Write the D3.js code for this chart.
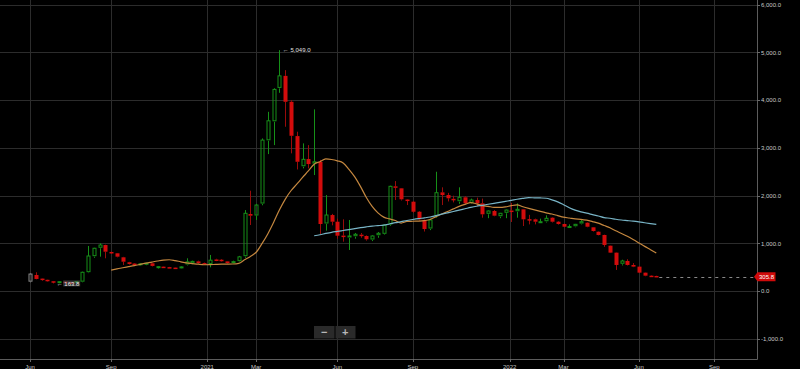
<!DOCTYPE html>
<html><head><meta charset="utf-8">
<script src="https://cdn.jsdelivr.net/npm/d3@7"></script>
<style>
html,body{margin:0;padding:0;background:#000;overflow:hidden}
svg{display:block;font-family:"Liberation Sans",Arial,sans-serif}
</style></head><body>
<svg id="c" width="800" height="369"></svg>
<script>
// ---- data (weekly candles, starting Monday 2020-06-01) ----
const startDate = "2020-06-01";
const open = [190,340,265,240,210,175,200,185,175,190,
  389,724,900,968,822,795,711,607,580,545,
  555,585,485,515,505,495,480,550,575,625,
  590,560,665,660,625,590,620,724,1617,1575,
  1826,3150,3548,4247,4510,3967,3249,2607,2768,2663,
  2711,1408,1596,1456,1165,1115,1142,1185,1157,1073,
  1163,1192,1387,2197,2155,1920,1875,1665,1492,1303,
  1561,2071,2015,1935,1875,1967,1841,1910,1841,1611,
  1680,1561,1632,1690,1665,1715,1510,1506,1440,1456,
  1540,1456,1408,1345,1351,1408,1435,1339,1246,1178,
  954,808,565,634,550,515,389,326,320];
const high = [370,397,270,245,215,205,205,190,210,410,
  948,910,1004,975,830,800,720,615,590,585,
  595,595,525,520,510,500,520,690,640,640,
  600,760,680,675,630,640,740,1700,2105,1830,
  3200,3757,4250,5049,4630,4000,3340,3096,3060,3808,
  2750,2015,1620,1520,1506,1492,1220,1220,1170,1170,
  1240,1400,2210,2307,2160,1930,1890,1680,1500,1520,
  2502,2176,2060,2000,2176,1990,1940,1960,1940,1690,
  1700,1640,1710,1850,1840,1720,1600,1520,1520,1590,
  1550,1470,1415,1400,1410,1490,1445,1345,1255,1185,
  960,815,660,670,590,520,395,335,325];
const low = [185,250,220,205,163.8,168,180,170,170,185,
  380,700,724,690,780,710,550,560,545,535,
  545,520,475,495,490,470,475,540,565,580,
  550,500,630,620,580,585,610,700,1387,1492,
  1800,2872,3060,4155,3444,2887,2550,2573,2573,2433,
  1199,1268,1380,1100,1038,864,1100,1120,1060,1050,
  1120,1180,1370,1910,1900,1805,1640,1480,1250,1280,
  1540,1805,1880,1860,1830,1820,1830,1780,1540,1530,
  1570,1530,1530,1450,1540,1366,1400,1400,1430,1440,
  1440,1395,1340,1340,1340,1400,1340,1250,1170,930,
  800,446,540,540,505,380,315,310,300];
const close = [360,257,240,215,195,200,185,175,205,397,
  738,900,968,828,795,724,619,571,555,575,
  585,530,515,500,495,480,510,615,625,590,
  560,650,645,630,590,620,720,1632,1582,1805,
  3165,3569,4226,4510,3967,3255,2711,2762,2663,2711,
  1408,1596,1456,1163,1150,1157,1192,1170,1088,1157,
  1213,1387,2197,2167,1925,1900,1665,1506,1303,1492,
  2063,2015,1946,1925,1967,1841,1910,1841,1611,1680,
  1582,1632,1700,1680,1715,1506,1500,1456,1456,1527,
  1456,1408,1351,1355,1401,1456,1351,1261,1178,969,
  808,550,634,550,515,389,326,320,305.8];
const maPeriods = [15, 50];
const xTickDates = ["2020-06-01","2020-09-07","2021-01-01","2021-03-01","2021-06-07",
  "2021-09-06","2022-01-01","2022-03-07","2022-06-06","2022-09-05"];
const xTickLabels = ["Jun","Sep","2021","Mar","Jun","Sep","2022","Mar","Jun","Sep"];
const yTicks = [-1000,0,1000,2000,3000,4000,5000,6000];

// ---- setup ----
const W = 800, H = 369, plotR = 757, plotB = 359;
const svg = d3.select("#c");
const parse = d3.utcParse("%Y-%m-%d");
const t0 = parse(startDate);
const dates = close.map((_, i) => d3.utcDay.offset(t0, 7 * i));
const x = d3.scaleUtc().domain([parse("2020-06-01"), parse("2022-09-05")]).range([30, 714.3]);
const y = d3.scaleLinear().domain([-1000, 6000]).range([339, 4.7]);
const loc = d3.formatLocale({decimal: ".", thousands: ",", grouping: [3], currency: ["$", ""], minus: "-"});
const fmt = loc.format(",.1f");

const GREEN = "#169018", RED = "#d30c0c", RED_WICK = "#9a0b0b", GRAY = "#8a8a8a";

svg.append("rect").attr("width", W).attr("height", H).attr("fill", "#000");

// grid
const grid = svg.append("g").attr("stroke", "#2c2c2c").attr("stroke-width", 1);
grid.selectAll("line.h").data(yTicks).join("line")
  .attr("x1", 0).attr("x2", plotR)
  .attr("y1", d => Math.round(y(d)) + 0.5).attr("y2", d => Math.round(y(d)) + 0.5);
grid.selectAll("line.v").data(xTickDates).join("line")
  .attr("y1", 0).attr("y2", plotB)
  .attr("x1", d => Math.round(x(parse(d))) + 0.5).attr("x2", d => Math.round(x(parse(d))) + 0.5);

// clip
svg.append("clipPath").attr("id", "clip").append("rect").attr("x", 0).attr("y", 0).attr("width", plotR).attr("height", plotB);
const plot = svg.append("g").attr("clip-path", "url(#clip)");

// candles
const cw = 4;
const candles = plot.append("g");
close.forEach((c, i) => {
  const o = open[i], hi = high[i], lo = low[i];
  const cx = Math.round(x(dates[i])) + 0.5;
  const up = c >= o;
  const col = i === 0 ? GRAY : (up ? GREEN : RED);
  const wickCol = i === 0 ? GRAY : (up ? GREEN : RED_WICK);
  const yTop = y(Math.max(o, c)), yBot = y(Math.min(o, c));
  const g = candles.append("g");
  g.append("line").attr("x1", cx).attr("x2", cx).attr("y1", y(hi)).attr("y2", yTop)
    .attr("stroke", wickCol).attr("stroke-width", 1);
  g.append("line").attr("x1", cx).attr("x2", cx).attr("y1", yBot).attr("y2", y(lo))
    .attr("stroke", wickCol).attr("stroke-width", 1);
  const hgt = Math.max(1.5, yBot - yTop);
  if (up) {
    g.append("rect").attr("x", cx - cw / 2 + 0.5).attr("y", yTop).attr("width", cw - 1).attr("height", Math.max(1, hgt - 1))
      .attr("fill", "none").attr("stroke", col).attr("stroke-width", 1);
  } else {
    g.append("rect").attr("x", cx - cw / 2).attr("y", yTop).attr("width", cw).attr("height", hgt)
      .attr("fill", col);
  }
});

// moving averages
function sma(n) {
  return close.map((_, i) => i < n - 1 ? null : d3.mean(close.slice(i - n + 1, i + 1)));
}
const maColors = ["#c4873f", "#78b4c6"];
maPeriods.forEach((n, k) => {
  const vals = sma(n);
  const line = d3.line().defined(d => d != null).x((d, i) => x(dates[i])).y(d => y(d)).curve(d3.curveMonotoneX);
  plot.append("path").attr("d", line(vals)).attr("fill", "none")
    .attr("stroke", maColors[k]).attr("stroke-width", 1.2);
});

// last price dashed line
const last = close.length - 1;
plot.append("line").attr("x1", x(dates[last]) + 3).attr("x2", plotR)
  .attr("y1", Math.round(y(close[last])) + 0.5).attr("y2", Math.round(y(close[last])) + 0.5)
  .attr("stroke", "#8a8a8a").attr("stroke-width", 1).attr("stroke-dasharray", "3,4");

// max / min labels
const iMax = d3.maxIndex(high), iMin = d3.minIndex(low);
svg.append("text").attr("x", x(dates[iMax]) + 3.5).attr("y", y(high[iMax])).attr("dy", "0.35em")
  .attr("fill", "#e0e0e0").attr("font-size", 6).text("← " + fmt(high[iMax]));
const minG = svg.append("g");
const minX = x(dates[iMin]) + 3.5, minY = y(low[iMin]);
minG.append("rect").attr("x", minX + 6.5).attr("y", minY - 3).attr("width", 17).attr("height", 6)
  .attr("fill", "rgba(90,90,90,0.55)");
minG.append("text").attr("x", minX).attr("y", minY).attr("dy", "0.35em")
  .attr("fill", "#e8e8e8").attr("font-size", 6).text("← " + fmt(low[iMin]));

// right axis
const ax = svg.append("g");
ax.append("line").attr("x1", plotR + 0.5).attr("x2", plotR + 0.5).attr("y1", 0).attr("y2", plotB + 0.5)
  .attr("stroke", "#5c5c5c");
ax.selectAll("line.t").data(yTicks).join("line")
  .attr("x1", plotR).attr("x2", plotR + 3)
  .attr("y1", d => Math.round(y(d)) + 0.5).attr("y2", d => Math.round(y(d)) + 0.5).attr("stroke", "#6a6a6a");
ax.selectAll("text").data(yTicks).join("text")
  .attr("x", plotR + 4).attr("y", d => y(d)).attr("dy", "0.35em")
  .attr("fill", "#c8c8c8").attr("font-size", 6).text(d => fmt(d));

// bottom axis
const bx = svg.append("g");
bx.append("line").attr("x1", 0).attr("x2", plotR + 0.5).attr("y1", plotB + 0.5).attr("y2", plotB + 0.5)
  .attr("stroke", "#5c5c5c");
bx.selectAll("line.t").data(xTickDates).join("line")
  .attr("x1", d => Math.round(x(parse(d))) + 0.5).attr("x2", d => Math.round(x(parse(d))) + 0.5)
  .attr("y1", plotB).attr("y2", plotB + 3).attr("stroke", "#6a6a6a");
bx.selectAll("text").data(xTickDates).join("text")
  .attr("x", d => x(parse(d))).attr("y", 368.5).attr("text-anchor", "middle")
  .attr("fill", "#c8c8c8").attr("font-size", 6).text((d, i) => xTickLabels[i]);

// last price tag
const ly = y(close[last]);
svg.append("path")
  .attr("d", `M${plotR - 3},${ly} L${plotR + 0.5},${ly - 4.5} L${plotR + 18.5},${ly - 4.5} L${plotR + 18.5},${ly + 4.5} L${plotR + 0.5},${ly + 4.5} Z`)
  .attr("fill", "#cf0a0a");
svg.append("text").attr("x", plotR + 9.5).attr("y", ly).attr("dy", "0.35em").attr("text-anchor", "middle")
  .attr("fill", "#fff").attr("font-size", 6).text(fmt(close[last]));

// zoom buttons
const zb = svg.append("g");
zb.append("rect").attr("x", 314).attr("y", 326).attr("width", 20.5).attr("height", 12.5).attr("fill", "#2a2a2a");
zb.append("rect").attr("x", 335.5).attr("y", 326).attr("width", 20).attr("height", 12.5).attr("fill", "#2a2a2a");
zb.append("text").attr("x", 324.3).attr("y", 332.3).attr("dy", "0.35em").attr("text-anchor", "middle")
  .attr("fill", "#b8b8b8").attr("font-size", 11).attr("font-weight", "bold").text("−");
zb.append("text").attr("x", 345.3).attr("y", 332.3).attr("dy", "0.35em").attr("text-anchor", "middle")
  .attr("fill", "#b8b8b8").attr("font-size", 11).attr("font-weight", "bold").text("+");
</script>
</body></html>
